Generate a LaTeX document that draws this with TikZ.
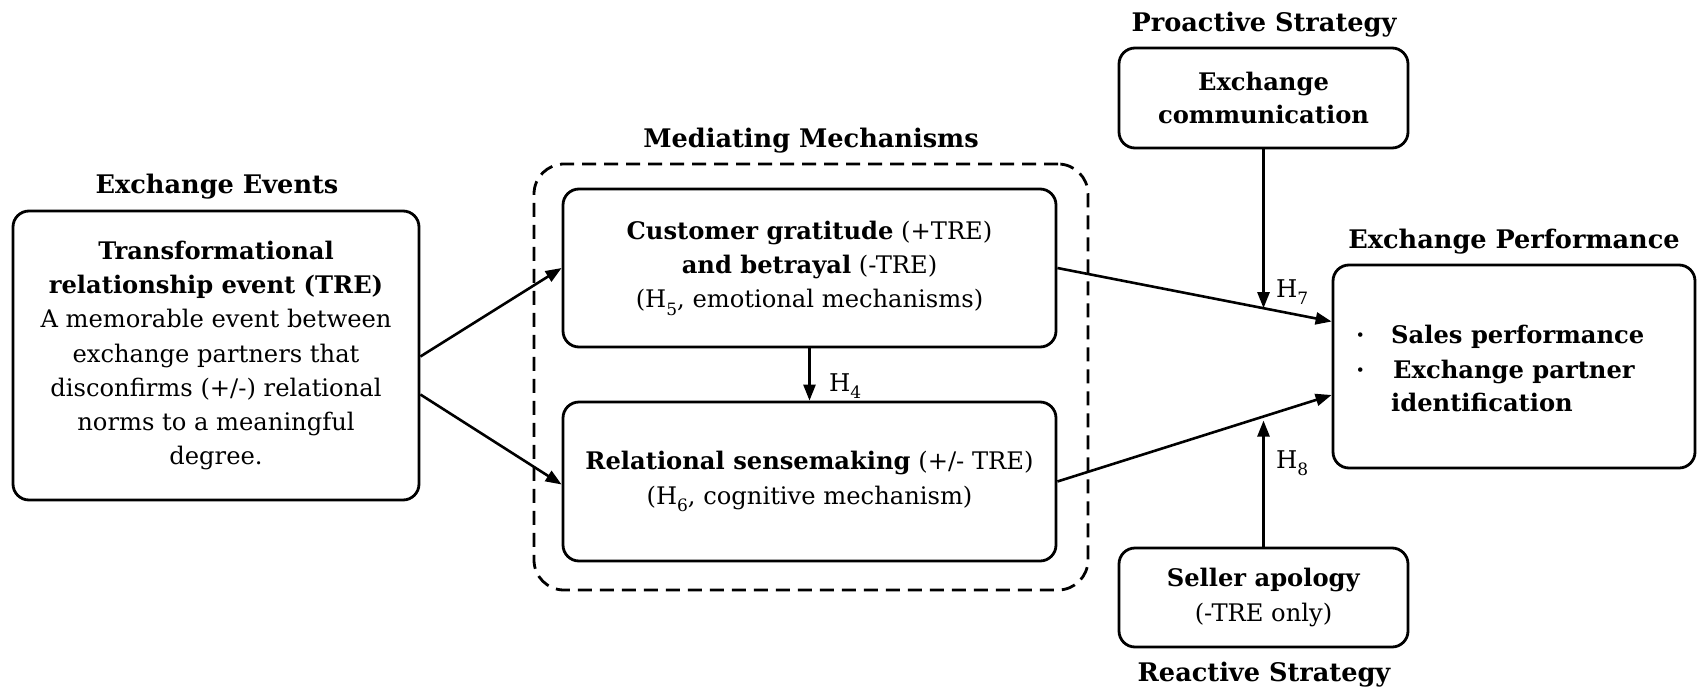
\documentclass[tikz,border=0pt]{standalone}
\usepackage{fontspec}
\setmainfont{DejaVu Serif}
\usetikzlibrary{arrows.meta,calc}
\newcommand\hsub[1]{\raisebox{-0.3em}{\fontsize{17}{17}\selectfont #1}}
\begin{document}
\begin{tikzpicture}[x=1pt,y=-1pt,
 box/.style={draw, line width=2.8pt, rounded corners=16pt, inner sep=0pt, align=center, font=\fontsize{24.2}{34.3}\selectfont},
 head/.style={font=\bfseries\fontsize{25.6}{30}\selectfont, inner sep=0pt, anchor=base},
 arr/.style={line width=2.6pt, -{Triangle[length=16pt,width=12pt]}},
 lab/.style={font=\fontsize{24.4}{30}\selectfont, inner sep=0pt, anchor=base west},
 item/.style={font=\bfseries\fontsize{24.2}{30}\selectfont, inner sep=0pt, anchor=base west}]
\useasboundingbox (0,0) rectangle (1702,688);

% headings
\node[head] (h1) at (217,193) {Exchange Events};
\node[head] (h2) at (811,147) {Mediating Mechanisms};
\node[head] (h3) at (1264,31) {Proactive Strategy};
\node[head] (h4) at (1514,248) {Exchange Performance};
\node[head] (h5) at (1264,681) {Reactive Strategy};

% boxes
\node[box, minimum width=406pt, minimum height=289pt] (ev) at (216,355.5)
 {\textbf{Transformational}\\\textbf{relationship event (TRE)}\\A memorable event between\\exchange partners that\\disconfirms (+/-) relational\\norms to a meaningful\\degree.};
\node[draw, line width=2.8pt, dashed, dash pattern=on 14pt off 8pt, rounded corners=30pt,
 minimum width=554pt, minimum height=426pt, inner sep=0pt] (mm) at (811,377) {};
\node[box, minimum width=493pt, minimum height=158pt] (gr) at (809.5,268)
 {\textbf{Customer gratitude} (+TRE)\\\textbf{and betrayal} (-TRE)\\(H\hsub{5}, emotional mechanisms)};
\node[box, minimum width=493pt, minimum height=159pt] (sm) at (809.5,481.5)
 {\textbf{Relational sensemaking} (+/- TRE)\\(H\hsub{6}, cognitive mechanism)};
\node[box, font=\bfseries\fontsize{24.2}{32.5}\selectfont, minimum width=289pt, minimum height=100pt] (cm) at (1263.5,98)
 {Exchange\\communication};
\node[box, minimum width=289pt, minimum height=99pt] (sa) at (1263.5,597.5)
 {\textbf{Seller apology}\\(-TRE only)};
\node[box, minimum width=362pt, minimum height=203pt] (pf) at (1514,366.5) {};

\node[item] (b1) at (1356,343) {·};
\node[item] (t1) at (1391,343) {Sales performance};
\node[item] (b2) at (1356,378) {·};
\node[item] (t2) at (1393,378) {Exchange partner};
\node[item] (t3) at (1391,411) {identification};

% connectors
\draw[arr] ([yshift=-1pt]ev.east) -- (gr.west);
\draw[arr] ([yshift=-39pt]ev.east) -- ([yshift=-3pt]sm.west);
\draw[arr] (gr.south) -- (sm.north);
\node[lab] (l4) at (829,391) {H\hsub{4}};
\draw[arr] (gr.east) -- coordinate[pos=0.751] (m7) ([yshift=45pt]pf.west);
\draw[arr] (sm.east) -- coordinate[pos=0.751] (m8) ([yshift=-28.5pt]pf.west);
\draw[arr] (cm.south) -- (cm.south |- m7);
\draw[arr] (sa.north) -- ([yshift=-4pt]sa.north |- m8);
\node[lab] (l7) at (1276,297) {H\hsub{7}};
\node[lab] (l8) at (1276,468) {H\hsub{8}};
\end{tikzpicture}
\end{document}
